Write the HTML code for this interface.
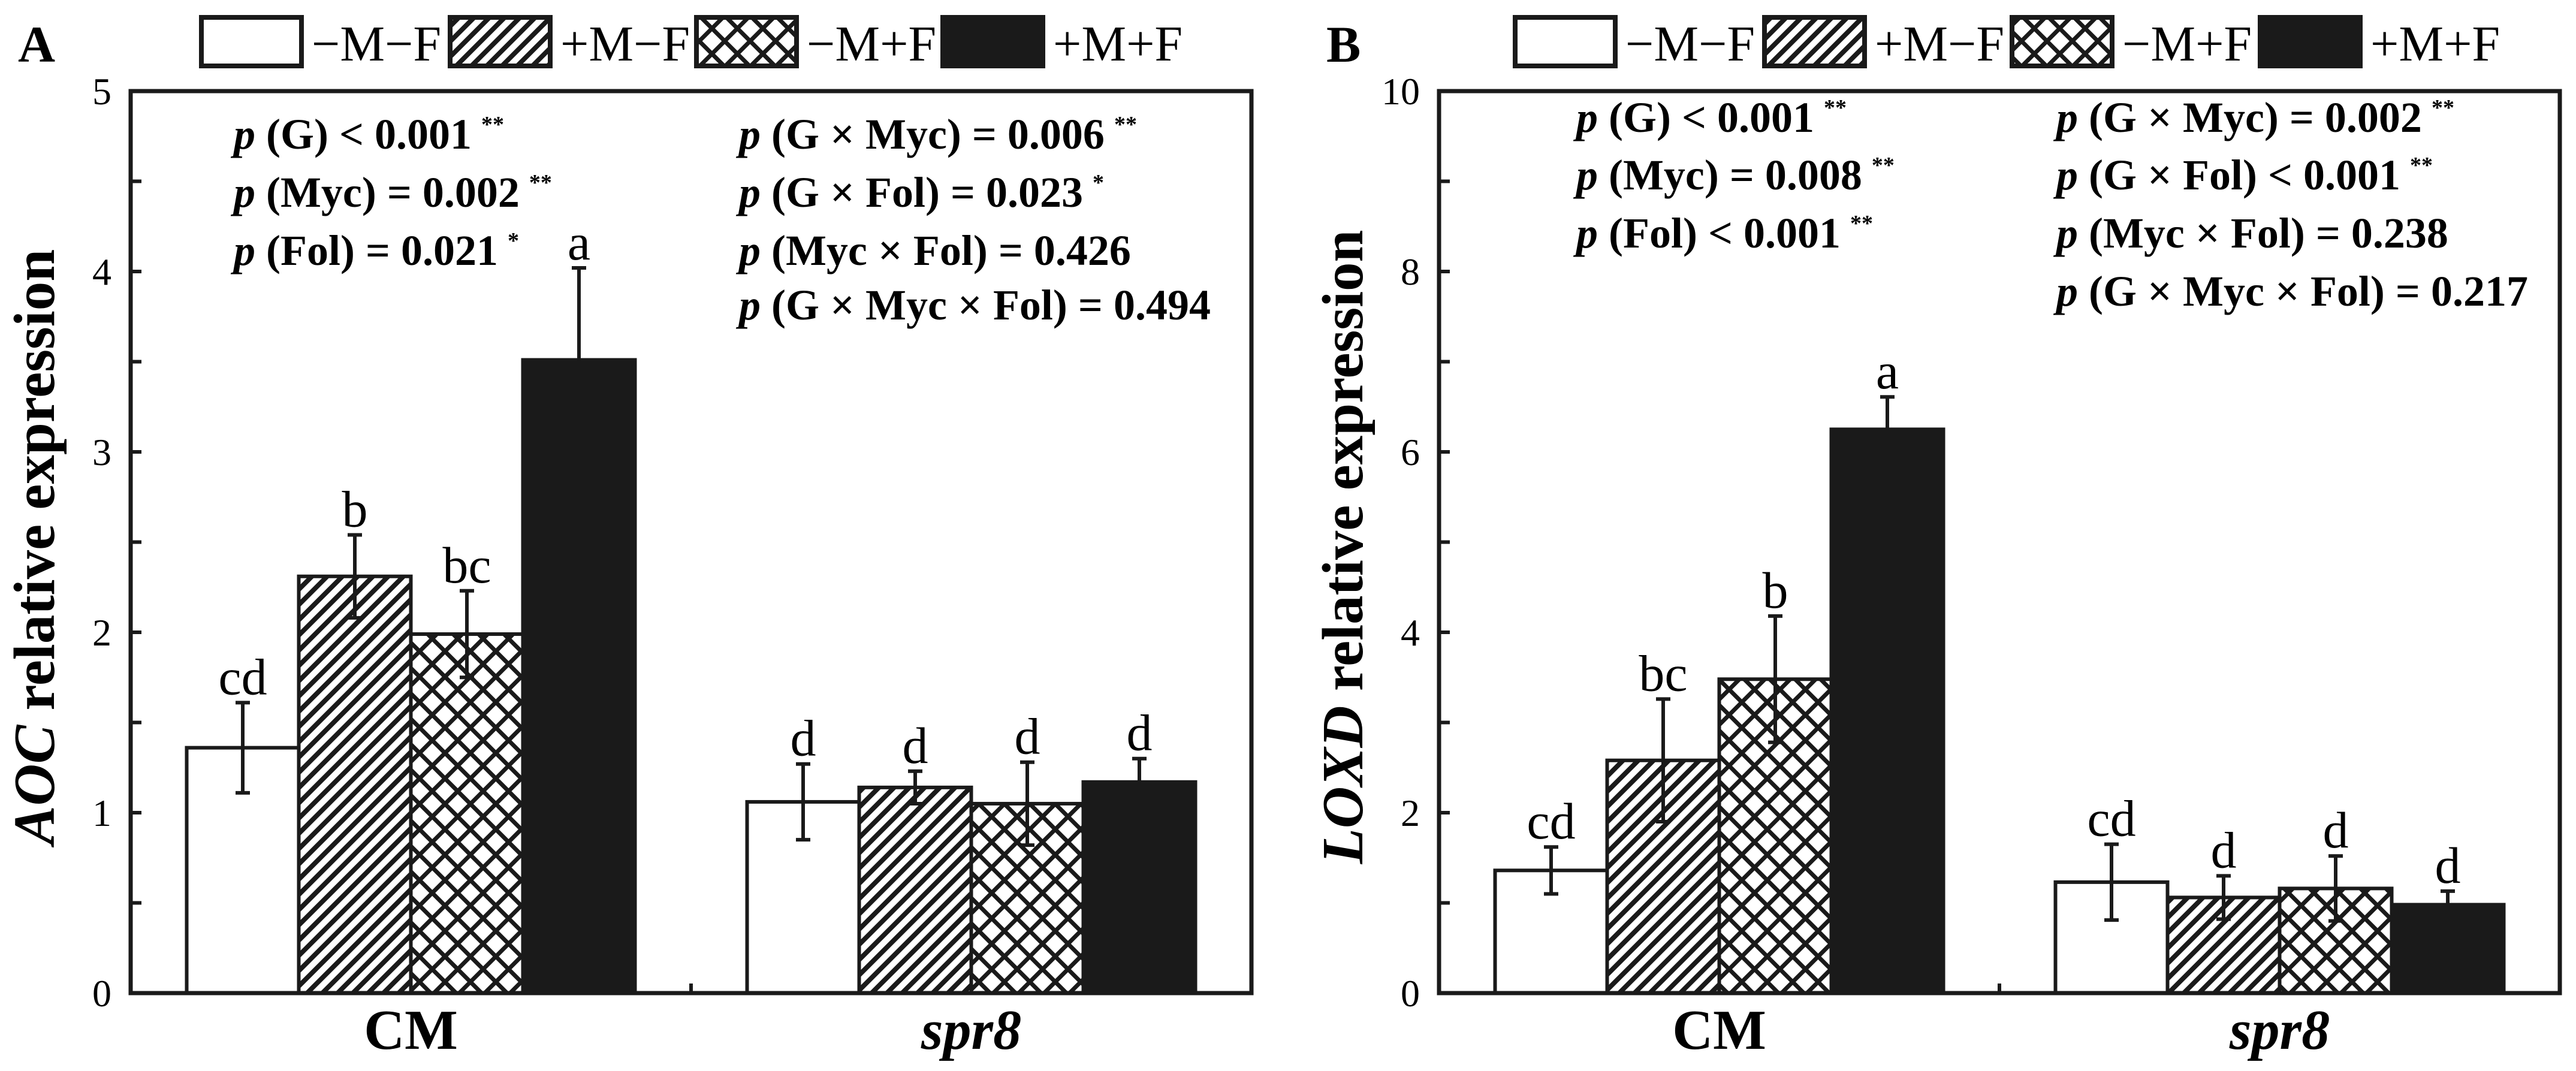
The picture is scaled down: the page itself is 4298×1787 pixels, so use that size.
<!DOCTYPE html>
<html><head><meta charset="utf-8"><style>
html,body{margin:0;padding:0;background:#fff;}
svg{display:block;font-family:"Liberation Serif",serif;}
</style></head><body>
<svg id="fig" width="4298" height="1787" viewBox="0 0 4298 1787" xmlns="http://www.w3.org/2000/svg">
<defs>
<pattern id="hatch" patternUnits="userSpaceOnUse" width="18" height="18" patternTransform="rotate(45)">
<rect width="18" height="18" fill="#fff"/><rect x="0" y="0" width="8" height="18" fill="#1a1a1a"/>
</pattern>
<pattern id="cross" patternUnits="userSpaceOnUse" width="30" height="30" patternTransform="rotate(45)">
<rect width="30" height="30" fill="#fff"/><rect x="0" y="0" width="7" height="30" fill="#1a1a1a"/><rect x="0" y="0" width="30" height="7" fill="#1a1a1a"/>
</pattern>
</defs>
</svg>
<script>
const groups = ["CM", "spr8"];
const treatments = ["−M−F", "+M−F", "−M+F", "+M+F"];
const aocValues = [1.36, 2.31, 1.99, 3.51, 1.06, 1.14, 1.05, 1.17];
const aocErrors = [0.25, 0.23, 0.24, 0.51, 0.21, 0.09, 0.23, 0.13];
const aocLetters = ["cd", "b", "bc", "a", "d", "d", "d", "d"];
const loxdValues = [1.36, 2.58, 3.48, 6.25, 1.23, 1.06, 1.16, 0.98];
const loxdErrors = [0.26, 0.68, 0.70, 0.36, 0.42, 0.24, 0.36, 0.15];
const loxdLetters = ["cd", "bc", "b", "a", "cd", "d", "d", "d"];
const aocTicks = [0, 1, 2, 3, 4, 5];
const loxdTicks = [0, 2, 4, 6, 8, 10];
const aocStatsLeft = [["(G) < 0.001", "**"], ["(Myc) = 0.002", "**"], ["(Fol) = 0.021", "*"]];
const aocStatsRight = [["(G × Myc) = 0.006", "**"], ["(G × Fol) = 0.023", "*"], ["(Myc × Fol) = 0.426", ""], ["(G × Myc × Fol) = 0.494", ""]];
const loxdStatsLeft = [["(G) < 0.001", "**"], ["(Myc) = 0.008", "**"], ["(Fol) < 0.001", "**"]];
const loxdStatsRight = [["(G × Myc) = 0.002", "**"], ["(G × Fol) < 0.001", "**"], ["(Myc × Fol) = 0.238", ""], ["(G × Myc × Fol) = 0.217", ""]];

const NS = "http://www.w3.org/2000/svg";
const svg = document.getElementById("fig");
const fills = ["#fff", "url(#hatch)", "url(#cross)", "#1a1a1a"];
function mk(tag, attrs, parent, text) {
  const e = document.createElementNS(NS, tag);
  for (const k in attrs) e.setAttribute(k, attrs[k]);
  if (text !== undefined) e.textContent = text;
  (parent || svg).appendChild(e);
  return e;
}

function panel(o) {
  const g = mk("g", {});
  
  
  const L = o.left, R = o.left + 1870, T = 152, B = 1657, W = R - L;
  const yMax = o.ticks[o.ticks.length - 1];
  const y = v => B - v / yMax * (B - T);
  const xBar = (gi, ti) => L + W * (0.25 + 0.5 * gi) - 2 * W * 0.1 + ti * W * 0.1;
  const pl = mk("text", {x: o.left - 188, y: 103, "font-size": 86, "font-weight": "bold"}, g, o.letter);
  
  
  o.legendBoxes.forEach((bx, i) => {
    const r = mk("rect", {x: bx + 4, y: 29, width: 167, height: 81, fill: fills[i], stroke: "#1a1a1a", "stroke-width": 8}, g);
    
    
    const t = mk("text", {x: bx + 188, y: 101, "font-size": 84}, g, treatments[i]);
    
    
  });
  o.values.forEach((v, i) => {
    const gi = Math.floor(i / 4), ti = i % 4;
    const x0 = xBar(gi, ti), bw = W * 0.1;
    const r = mk("rect", {x: x0, y: y(v), width: bw, height: B - y(v), fill: fills[ti], stroke: "#1a1a1a", "stroke-width": 6}, g);
    
    
    const cx = x0 + bw / 2, e = o.errors[i];
    const eb = mk("path", {d: `M${cx} ${y(v - e)}V${y(v + e)}M${cx - 12} ${y(v + e)}H${cx + 12}M${cx - 12} ${y(v - e)}H${cx + 12}`, stroke: "#1a1a1a", "stroke-width": 6, fill: "none"}, g);
    
    
    const lt = mk("text", {x: cx, y: y(v + e) - 14, "font-size": 86, "text-anchor": "middle"}, g, o.letters[i]);
    
    
  });
  const fr = mk("rect", {x: L, y: T, width: W, height: B - T, fill: "none", stroke: "#1a1a1a", "stroke-width": 7}, g);
  
  
  mk("path", {d: `M${L + W / 2} ${B}V${B - 16}`, stroke: "#1a1a1a", "stroke-width": 6}, g);
  const step = o.ticks[1] - o.ticks[0];
  for (let v = 0; v <= yMax + 1e-9; v += step / 2) {
    mk("path", {d: `M${L} ${y(v)}H${L + 18}`, stroke: "#1a1a1a", "stroke-width": 6}, g);
  }
  o.ticks.forEach(v => {
    const t = mk("text", {x: L - 32, y: y(v) + 22, "font-size": 64, "text-anchor": "end"}, g, String(v));
    
    
  });
  groups.forEach((gn, gi) => {
    const t = mk("text", {x: L + W * (0.25 + 0.5 * gi), y: 1750, "font-size": 94, "font-weight": "bold", "text-anchor": "middle", "font-style": gi === 1 ? "italic" : "normal"}, g, gn);
    
    
  });
  const yt = mk("text", {transform: `translate(${L - 128},${(T + B) / 2 + 8}) rotate(-90)`, "font-size": 97, "font-weight": "bold", "text-anchor": "middle"}, g);
  
  
  mk("tspan", {"font-style": "italic"}, yt, o.gene);
  mk("tspan", {}, yt, " relative expression");
  function stats(list, x, ys) {
    list.forEach((s, i) => {
      const t = mk("text", {x: x, y: ys[i], "font-size": 72, "font-weight": "bold"}, g);
      
      
      mk("tspan", {"font-style": "italic"}, t, "p");
      mk("tspan", {}, t, " " + s[0]);
      if (s[1]) mk("tspan", {"font-size": 38, dy: -28, dx: 16}, t, s[1]);
    });
  }
  stats(o.statsL, o.sxL, o.sy);
  stats(o.statsR, o.sxR, o.sy);
}

panel({name: "panel-a-aoc", letter: "A", left: 218, ticks: aocTicks, values: aocValues, errors: aocErrors, letters: aocLetters, gene: "AOC",
  legendBoxes: [332, 747, 1158, 1569], statsL: aocStatsLeft, statsR: aocStatsRight, sxL: 390, sxR: 1233, sy: [248, 345, 442, 533]});
panel({name: "panel-b-loxd", letter: "B", left: 2401, ticks: loxdTicks, values: loxdValues, errors: loxdErrors, letters: loxdLetters, gene: "LOXD",
  legendBoxes: [2524, 2940, 3353, 3767], statsL: loxdStatsLeft, statsR: loxdStatsRight, sxL: 2630, sxR: 3431, sy: [220, 316, 413, 510]});
</script>
</body></html>
